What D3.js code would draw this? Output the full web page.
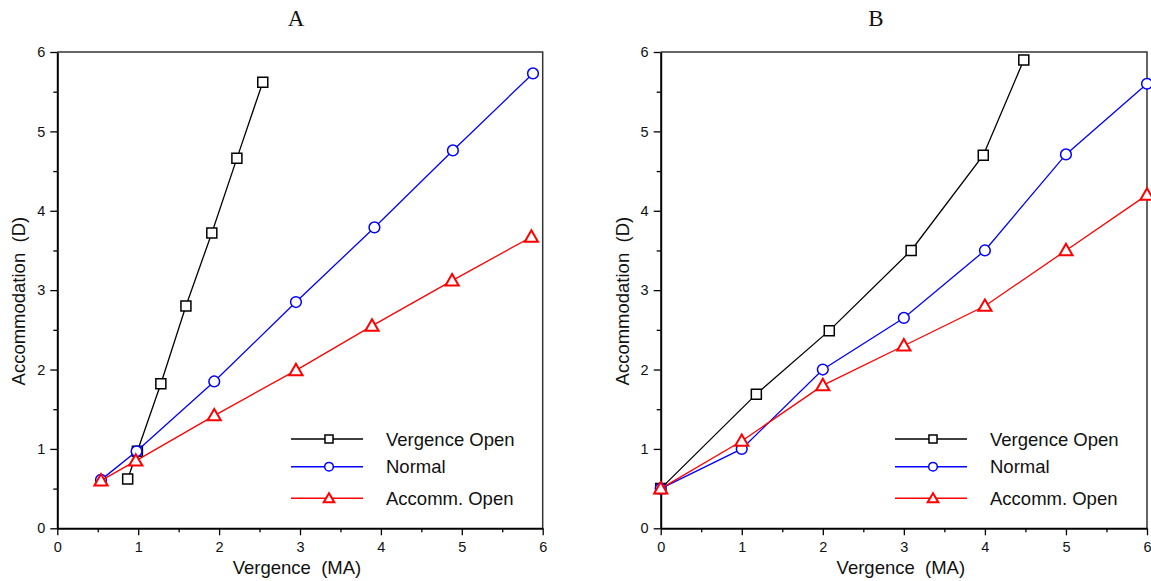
<!DOCTYPE html>
<html>
<head>
<meta charset="utf-8">
<script src="https://cdn.jsdelivr.net/npm/d3@7"></script>
<style>
  body { margin: 0; background: #fff; }
  svg { display: block; }
  text { font-family: Arial, "Liberation Sans", sans-serif; fill: #111; }
</style>
</head>
<body>
<svg id="chart" width="1151" height="581"></svg>
<script>
// ---------- data ----------
const panelTitles = ["A", "B"];
const seriesNames = ["Vergence Open", "Normal", "Accomm. Open"];
const xTickValues = [0, 1, 2, 3, 4, 5, 6];
const yTickValues = [0, 1, 2, 3, 4, 5, 6];
const minorTickValues = [0.5, 1.5, 2.5, 3.5, 4.5, 5.5];

// Panel A
const aVergenceX = [0.87, 0.99, 1.28, 1.59, 1.91, 2.22, 2.54];
const aVergenceY = [0.62, 0.97, 1.82, 2.80, 3.72, 4.66, 5.62];
const aNormalX   = [0.54, 0.98, 1.94, 2.95, 3.92, 4.89, 5.88];
const aNormalY   = [0.61, 0.97, 1.85, 2.85, 3.79, 4.76, 5.73];
const aAccommX   = [0.54, 0.97, 1.94, 2.95, 3.89, 4.88, 5.86];
const aAccommY   = [0.60, 0.85, 1.42, 1.99, 2.55, 3.12, 3.67];

// Panel B
const bVergenceX = [0, 1.18, 2.08, 3.09, 3.98, 4.48];
const bVergenceY = [0.50, 1.69, 2.49, 3.50, 4.70, 5.90];
const bNormalX   = [0, 1, 2, 3, 4, 5, 6];
const bNormalY   = [0.50, 1.00, 2.00, 2.65, 3.50, 4.71, 5.60];
const bAccommX   = [0, 1, 2, 3, 4, 5, 6];
const bAccommY   = [0.50, 1.10, 1.80, 2.30, 2.80, 3.50, 4.20];

// ---------- drawing ----------
const svg = d3.select("#chart");
const colors = ["#000000", "#0000ff", "#ff0000"];
const symbols = [d3.symbolSquare, d3.symbolCircle, d3.symbolTriangle];

function zip(xs, ys) { return xs.map((x, i) => ({x: x, y: ys[i]})); }

const panels = [
  { title: panelTitles[0], left: 57.3, right: 542.7, titleX: 296,
    series: [zip(aVergenceX, aVergenceY), zip(aNormalX, aNormalY), zip(aAccommX, aAccommY)],
    legendX: 291, ylabX: 25 },
  { title: panelTitles[1], left: 660.7, right: 1147, titleX: 876,
    series: [zip(bVergenceX, bVergenceY), zip(bNormalX, bNormalY), zip(bAccommX, bAccommY)],
    legendX: 895, ylabX: 629 }
];
const plotTop = 52, plotBottom = 528.3;
const legendRows = [439, 466.7, 498.3];

function markerPath(i, scaleSize) {
  const sizes = [100, 90, 75];
  return d3.symbol().type(symbols[i]).size(sizes[i] * scaleSize)();
}

panels.forEach(p => {
  const x = d3.scaleLinear().domain([0, 6]).range([p.left, p.right]);
  const y = d3.scaleLinear().domain([0, 6]).range([plotBottom, plotTop]);
  const g = svg.append("g");

  // frame (top & right)
  g.append("path")
    .attr("d", `M${p.left},${plotTop}H${p.right}V${plotBottom}`)
    .attr("fill", "none").attr("stroke", "#333").attr("stroke-width", 1.5);

  // axes
  const xAxis = g.append("g").attr("transform", `translate(0,${plotBottom})`)
    .call(d3.axisBottom(x).tickValues(xTickValues).tickFormat(d3.format("d")).tickSize(7).tickSizeOuter(0).tickPadding(6));
  const xMinor = g.append("g").attr("transform", `translate(0,${plotBottom})`)
    .call(d3.axisBottom(x).tickValues(minorTickValues).tickFormat("").tickSize(4).tickSizeOuter(0));
  const yAxis = g.append("g").attr("transform", `translate(${p.left},0)`)
    .call(d3.axisLeft(y).tickValues(yTickValues).tickFormat(d3.format("d")).tickSize(7).tickSizeOuter(0).tickPadding(5));
  const yMinor = g.append("g").attr("transform", `translate(${p.left},0)`)
    .call(d3.axisLeft(y).tickValues(minorTickValues).tickFormat("").tickSize(4).tickSizeOuter(0));
  [xAxis, xMinor, yAxis, yMinor].forEach(a => {
    a.select(".domain").attr("stroke", "#000").attr("stroke-width", 2);
    a.selectAll(".tick line").attr("stroke", "#000").attr("stroke-width", 1.3);
    a.selectAll(".tick text").style("font-size", "14.5px").style("fill", "#111");
  });
  xMinor.select(".domain").remove();
  yMinor.select(".domain").remove();

  // labels
  g.append("text").attr("x", p.titleX).attr("y", 26).attr("text-anchor", "middle")
    .style("font-family", "'Liberation Serif', 'Times New Roman', serif")
    .style("font-size", "23px").text(p.title);
  g.append("text").attr("x", (p.left + p.right) / 2 - 3).attr("y", 574).attr("text-anchor", "middle")
    .style("font-size", "18.5px").style("white-space", "pre")
    .text("Vergence  (MA)");
  g.append("text").attr("transform", `translate(${p.ylabX},${(plotTop + plotBottom) / 2 + 11}) rotate(-90)`)
    .attr("text-anchor", "middle").style("font-size", "18.5px").style("white-space", "pre")
    .text("Accommodation  (D)");

  // series
  const line = d3.line().x(d => x(d.x)).y(d => y(d.y));
  p.series.forEach((data, i) => {
    g.append("path").datum(data).attr("d", line)
      .attr("fill", "none").attr("stroke", colors[i]).attr("stroke-width", 1.3);
    g.selectAll(null).data(data).enter().append("path")
      .attr("transform", d => `translate(${x(d.x)},${y(d.y) + (i === 2 ? 1 : 0)})`)
      .attr("d", markerPath(i, 1))
      .attr("fill", "#fff").attr("stroke", colors[i]).attr("stroke-width", i === 2 ? 2 : 1.5);
  });

  // legend
  seriesNames.forEach((name, i) => {
    const ly = legendRows[i];
    g.append("line").attr("x1", p.legendX).attr("x2", p.legendX + 72)
      .attr("y1", ly).attr("y2", ly).attr("stroke", colors[i]).attr("stroke-width", 1.5);
    g.append("path").attr("transform", `translate(${p.legendX + 38},${ly + (i === 2 ? 1 : 0)})`)
      .attr("d", markerPath(i, 0.65))
      .attr("fill", "#fff").attr("stroke", colors[i]).attr("stroke-width", i === 2 ? 2 : 1.5);
    g.append("text").attr("x", p.legendX + 95).attr("y", ly + 6.5)
      .style("font-size", "18.5px").text(name);
  });
});
</script>
</body>
</html>
